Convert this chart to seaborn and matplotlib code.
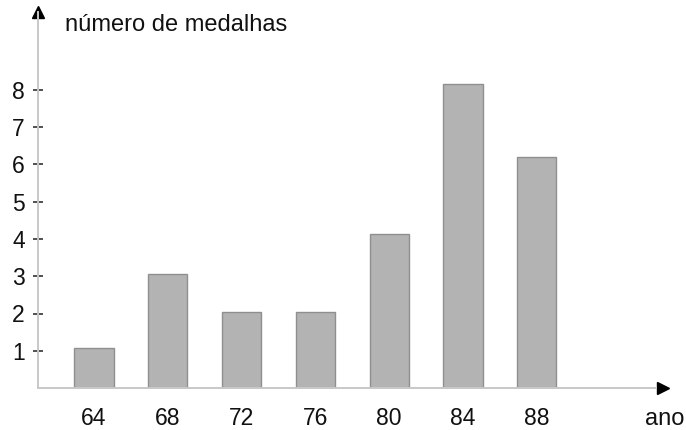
import matplotlib
matplotlib.use("Agg")
import matplotlib.pyplot as plt
import seaborn as sns
import pandas as pd

anos = ["64", "68", "72", "76", "80", "84", "88"]
medalhas = [1.08, 3.05, 2.05, 2.05, 4.13, 8.17, 6.19]
yticks = [1, 2, 3, 4, 5, 6, 7, 8]

sns.set_theme(style="white")
plt.rcParams['font.family'] = ['Liberation Sans', 'DejaVu Sans']

W, H = 686, 430
fig = plt.figure(figsize=(W / 100, H / 100), dpi=100)
left, right, top, bottom = 38, 668, 12, 388
ax = fig.add_axes([left / W, (H - bottom) / H, (right - left) / W, (bottom - top) / H])

df = pd.DataFrame({"ano": anos, "medalhas": medalhas})
sns.barplot(data=df, x="ano", y="medalhas", ax=ax, color="#b3b3b3",
            saturation=1, width=0.53, edgecolor="#8f8f8f", linewidth=1)

spacing = 73.8
ax.set_xlim(-(94 - left) / spacing, (right - 94) / spacing)
ax.set_ylim(0, (bottom - top) / 37.25)

for s in ["top", "right"]:
    ax.spines[s].set_visible(False)
for s in ["left", "bottom"]:
    ax.spines[s].set_color("#c8c8c8")
    ax.spines[s].set_linewidth(1.4)
ax.spines["bottom"].set_bounds(ax.get_xlim()[0], ax.get_xlim()[0] + (655 - left) / spacing)

ax.set_yticks(yticks)
ax.set_yticklabels([str(v) for v in yticks])
ax.tick_params(axis="y", direction="inout", length=7, width=1.2, color="#333333",
               labelsize=16.5, pad=6, left=True, labelcolor="#111111")
ax.tick_params(axis="x", length=0, labelsize=16.5, pad=14, labelcolor="#111111")
ax.set_xlabel("")
ax.set_ylabel("")

# arrow heads
ax.plot([0], [1], marker="^", color="black", markersize=9,
        transform=ax.transAxes, clip_on=False)
ax.plot([(663 - left) / (right - left)], [0], marker=">", color="black", markersize=9,
        transform=ax.transAxes, clip_on=False)

fig.text(65 / W, 1 - 31 / H, "número de medalhas", fontsize=17,
         ha="left", va="baseline", color="#111111")
fig.text(645 / W, 1 - 425 / H, "ano", fontsize=17,
         ha="left", va="baseline", color="#111111")

fig.savefig("out.png", dpi=100)
